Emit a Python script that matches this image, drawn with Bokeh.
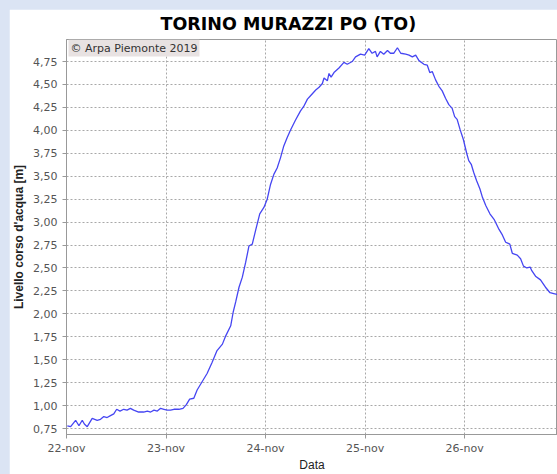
from bokeh.plotting import figure
from bokeh.models import Range1d, FixedTicker, Label, Spacer
from bokeh.layouts import column, row
from bokeh.embed import file_html
from bokeh.resources import INLINE

# hours since 22-nov 00:00 and water level [m]
hours = [0.2, 1.0, 2.2, 3.0, 3.8, 4.3, 5.0, 6.2, 7.4, 8.2, 9.0, 9.8, 10.6, 11.4,
         12.1, 12.9, 13.8, 14.6, 15.4, 16.2, 17.4, 18.6, 19.5, 20.3, 21.1, 21.9,
         22.7, 23.5, 24.3, 25.1, 25.9, 27.1, 28.1, 28.9, 29.7, 30.7, 31.5, 32.7,
         33.9, 35.1, 36.3, 37.6, 38.4, 39.6, 40.2, 40.8, 41.6, 42.4, 43.2, 44.0,
         44.8, 45.6, 46.6, 47.6, 48.4, 49.2, 50.0, 50.8, 51.6, 52.4, 53.2, 54.0,
         55.2, 56.4, 57.2, 58.1, 58.9, 60.1, 60.9, 61.7, 62.1, 62.9, 63.3, 63.8,
         64.5, 65.7, 66.9, 67.7, 68.9, 69.7, 70.9, 71.9, 72.9, 73.7, 74.5, 74.9,
         75.7, 76.5, 77.4, 78.1, 78.9, 79.8, 80.6, 81.8, 82.6, 83.4, 84.2, 85.0,
         86.2, 87.0, 87.6, 88.2, 89.0, 89.8, 90.6, 91.4, 92.2, 93.0, 93.6, 94.2,
         94.9, 95.7, 96.5, 97.0, 97.6, 98.2, 98.9, 99.7, 100.3, 101.1, 102.1,
         103.1, 104.3, 105.1, 105.9, 106.4, 106.9, 107.5, 108.7, 109.5, 110.2,
         111.0, 111.8, 112.2, 113.1, 114.3, 115.5, 116.6, 117.5, 118.4]
level = [0.78, 0.77, 0.84, 0.78, 0.84, 0.80, 0.77, 0.86, 0.84, 0.85, 0.88, 0.87,
         0.89, 0.91, 0.96, 0.94, 0.96, 0.95, 0.97, 0.95, 0.93, 0.93, 0.94, 0.93,
         0.95, 0.94, 0.97, 0.96, 0.95, 0.95, 0.96, 0.96, 0.97, 1.01, 1.07, 1.08,
         1.17, 1.26, 1.35, 1.47, 1.60, 1.67, 1.76, 1.87, 2.02, 2.13, 2.29, 2.40,
         2.56, 2.74, 2.76, 2.91, 3.09, 3.16, 3.25, 3.41, 3.52, 3.59, 3.70, 3.83,
         3.92, 4.00, 4.11, 4.21, 4.26, 4.34, 4.38, 4.44, 4.47, 4.51, 4.57, 4.54,
         4.62, 4.58, 4.63, 4.68, 4.74, 4.72, 4.75, 4.80, 4.83, 4.82, 4.89, 4.84,
         4.86, 4.80, 4.86, 4.83, 4.87, 4.84, 4.84, 4.90, 4.84, 4.83, 4.82, 4.80,
         4.82, 4.76, 4.72, 4.71, 4.63, 4.64, 4.55, 4.48, 4.43, 4.35, 4.28, 4.24,
         4.15, 4.12, 4.01, 3.90, 3.75, 3.67, 3.63, 3.54, 3.45, 3.36, 3.27, 3.18,
         3.09, 3.03, 2.92, 2.86, 2.78, 2.77, 2.76, 2.66, 2.64, 2.60, 2.52, 2.50,
         2.51, 2.47, 2.41, 2.37, 2.29, 2.23, 2.22, 2.21]

x_tick_hours = [0, 24, 48, 72, 96]
x_tick_labels = ["22-nov", "23-nov", "24-nov", "25-nov", "26-nov"]
y_ticks = [0.75, 1.00, 1.25, 1.50, 1.75, 2.00, 2.25, 2.50, 2.75, 3.00, 3.25,
           3.50, 3.75, 4.00, 4.25, 4.50, 4.75]
y_tick_labels = ["0,75", "1,00", "1,25", "1,50", "1,75", "2,00", "2,25", "2,50",
                 "2,75", "3,00", "3,25", "3,50", "3,75", "4,00", "4,25", "4,50",
                 "4,75"]

title_text = "TORINO MURAZZI PO (TO)"
y_label = "Livello corso d'acqua [m]"
x_label = "Data"
credit = "\u00a9 Arpa Piemonte 2019"

BG = "#dbe4f4"
X0, X1 = 0, 118.4
Y0, Y1 = 0.685, 4.99

p = figure(width=548, height=465, output_backend="svg", toolbar_location=None,
           x_range=Range1d(X0, X1), y_range=Range1d(Y0, Y1),
           min_border_left=57, min_border_right=0, min_border_top=30,
           min_border_bottom=38)

p.background_fill_color = "white"
p.border_fill_color = "white"
p.outline_line_color = "#999999"

p.title.text = title_text
p.title.text_font = "DejaVu Sans"
p.title.text_font_style = "bold"
p.title.text_font_size = "17.5px"
p.title.text_color = "#000000"
p.title.align = "left"
p.title.offset = 94
p.title.standoff = 8
p.title.vertical_align = "top"

p.line(hours, level, line_color="#4646f2", line_width=1.3)

p.xaxis.ticker = FixedTicker(ticks=x_tick_hours)
p.xaxis.major_label_overrides = dict(zip(x_tick_hours, x_tick_labels))
p.yaxis.ticker = FixedTicker(ticks=y_ticks)
p.yaxis.major_label_overrides = dict(zip(y_ticks, y_tick_labels))

for ax in (p.xaxis, p.yaxis):
    ax.axis_line_color = "#999999"
    ax.major_tick_line_color = "#999999"
    ax.major_tick_out = 4
    ax.major_tick_in = 0
    ax.minor_tick_line_color = None
    ax.major_label_text_font = "DejaVu Sans"
    ax.major_label_text_font_size = "11px"
    ax.major_label_text_color = "#555555"
p.xaxis.major_label_standoff = 3
p.yaxis.major_label_standoff = 5

p.xaxis.axis_label = x_label
p.xaxis.axis_label_text_font = "Liberation Sans"
p.xaxis.axis_label_text_font_style = "normal"
p.xaxis.axis_label_text_font_size = "12px"
p.xaxis.axis_label_text_color = "#222222"
p.xaxis.axis_label_standoff = 0

p.yaxis.axis_label = y_label
p.yaxis.axis_label_text_font = "Liberation Sans"
p.yaxis.axis_label_text_font_style = "bold"
p.yaxis.axis_label_text_font_size = "12px"
p.yaxis.axis_label_text_color = "#222222"
p.yaxis.axis_label_standoff = 4

for g in (p.xgrid, p.ygrid):
    g.grid_line_color = "#a8a8a8"
    g.grid_line_dash = "2 2"
    g.grid_line_width = 1
p.xgrid.ticker = FixedTicker(ticks=x_tick_hours)
p.ygrid.ticker = FixedTicker(ticks=y_ticks)

lab = Label(x=X0, y=Y1, x_offset=2, y_offset=0, text=credit,
            text_font="DejaVu Sans", text_font_size="11px", text_color="#333333",
            anchor="top_left", background_fill_color="#e8e2e2",
            padding=2)
p.add_layout(lab)

top_pad = Spacer(width=557, height=9, styles={"background-color": BG})
left_pad = Spacer(width=9, height=465, styles={"background-color": BG})
page = column(top_pad, row(left_pad, p), styles={"background-color": BG})

open("out.html", "w").write(file_html(page, INLINE))
